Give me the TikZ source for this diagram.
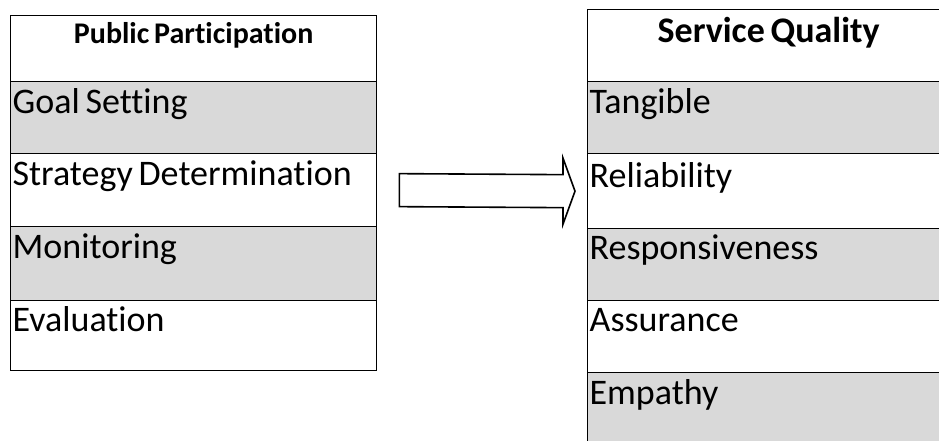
\documentclass[tikz,border=0pt]{standalone}
\usepackage{fontspec}
\setmainfont[Ligatures=NoCommon]{Carlito}
\usetikzlibrary{calc}
\definecolor{rowgrey}{HTML}{D9D9D9}
\tikzset{
  cell/.style={draw=black, line width=1.3pt, inner xsep=2pt, inner ysep=0pt,
    anchor=north west, align=flush left, font=\fontsize{36}{40}\selectfont,
    execute at begin node={\spaceskip=0.16em\relax}},
  lcol/.style={minimum width=366pt, text width=362pt},
  rcol/.style={minimum width=362pt, text width=358pt},
  hdr/.style={align=flush center, font=\bfseries\fontsize{#1}{#1}\selectfont},
  grey/.style={fill=rowgrey},
  plain/.style={fill=white},
  bigarrow/.style={draw=black, line width=1.6pt, fill=white, line join=miter}
}
\begin{document}
\begin{tikzpicture}[x=1pt, y=-1pt]
\useasboundingbox (0,0) rectangle (939,441);
\clip (0,0) rectangle (939,441);
% left table
\node[cell, lcol, plain, hdr=30, minimum height=66pt, text height=28pt, text depth=38pt] (l0) at (10,15) {Public Participation};
\node[cell, lcol, grey, minimum height=72pt, text height=32pt, text depth=40pt] (l1) at (10,81) {Goal Setting};
\node[cell, lcol, plain, minimum height=73pt, text height=32pt, text depth=41pt] (l2) at (10,153) {Strategy Determination};
\node[cell, lcol, grey, minimum height=74pt, text height=32pt, text depth=42pt] (l3) at (10,226) {Monitoring};
\node[cell, lcol, plain, minimum height=70pt, text height=31pt, text depth=39pt] (l4) at (10,300) {Evaluation};
% right table
\node[cell, rcol, plain, hdr=36, minimum height=72pt, text height=33pt, text depth=39pt] (r0) at (587,9) {Service Quality};
\node[cell, rcol, grey, minimum height=72pt, text height=32pt, text depth=40pt] (r1) at (587,81) {Tangible};
\node[cell, rcol, plain, minimum height=75pt, text height=34pt, text depth=41pt] (r2) at (587,153) {Reliability};
\node[cell, rcol, grey, minimum height=72pt, text height=31pt, text depth=41pt] (r3) at (587,228) {Responsiveness};
\node[cell, rcol, plain, minimum height=72pt, text height=31pt, text depth=41pt] (r4) at (587,300) {Assurance};
\node[cell, rcol, grey, minimum height=80pt, text height=32pt, text depth=48pt] (r5) at (587,372) {Empathy};
% block arrow from left table to right table
\coordinate (as) at ($(l2.east)+(22pt,0)$);
\coordinate (at) at ($(r2.west)+(-12pt,0)$);
\draw[bigarrow] ($(as)+(0,-16.5)$) -- ($(at)+(-12,-16.5)$) -- ($(at)+(-12,-33)$) -- (at)
  -- ($(at)+(-12,33)$) -- ($(at)+(-12,16.5)$) -- ($(as)+(0,16.5)$) -- cycle;
\end{tikzpicture}
\end{document}
